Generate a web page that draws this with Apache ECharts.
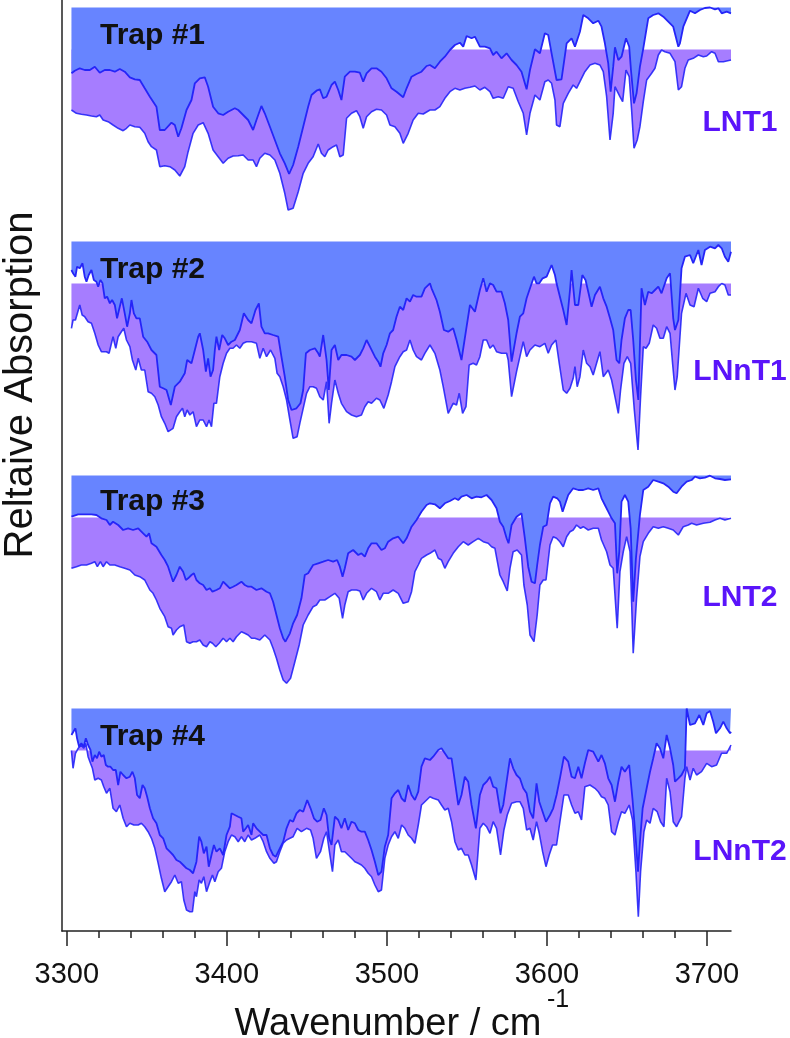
<!DOCTYPE html>
<html>
<head>
<meta charset="utf-8">
<script src="https://cdn.jsdelivr.net/npm/echarts@6/dist/echarts.min.js"></script>
<style>
html,body{margin:0;padding:0;background:#fff;}
#c{width:790px;height:1038px;}
</style>
</head>
<body>
<div id="c"></div>
<script>
// ---------------- DATA (wavenumber cm^-1, relative absorption depth below each trace's baseline, arb. units) ----------------
const trapLabels = ['Trap #1', 'Trap #2', 'Trap #3', 'Trap #4'];
const sampleLabels = ['LNT1', 'LNnT1', 'LNT2', 'LNnT2'];
const majorTicks = [3300, 3400, 3500, 3600, 3700];
const minorTicks = [3320,3340,3360,3380,3420,3440,3460,3480,3520,3540,3560,3580,3620,3640,3660,3680];
const xTitle = 'Wavenumber / cm';
const xTitleSup = '-1';
const yTitle = 'Reltaive Absorption';

// Trap #1 (blue, upper) and LNT1 (purple, lower)
const trap1Blue = [[3302.9,65.8],[3305.0,63.2],[3308.1,60.8],[3311.2,62.5],[3314.4,62.5],[3317.5,59.2],[3320.6,65.2],[3323.7,62.5],[3326.9,62.5],[3330.0,64.2],[3333.1,61.5],[3336.2,64.2],[3339.4,69.8],[3342.5,71.8],[3345.6,72.5],[3348.7,80.8],[3351.9,89.2],[3356.0,99.2],[3358.1,122.5],[3361.2,122.5],[3365.4,115.2],[3367.5,117.5],[3369.6,129.2],[3371.6,120.8],[3374.8,102.5],[3377.9,92.5],[3380.0,75.8],[3383.1,70.8],[3386.2,69.8],[3388.3,79.2],[3391.4,99.2],[3394.6,105.8],[3397.7,107.5],[3400.8,104.2],[3402.9,102.5],[3405.0,100.8],[3407.1,102.5],[3410.2,107.5],[3413.3,112.5],[3416.4,122.5],[3418.5,112.5],[3421.6,98.5],[3423.7,105.8],[3426.9,119.2],[3430.0,132.5],[3433.1,145.8],[3436.2,155.8],[3438.9,166.5],[3441.4,157.5],[3444.6,139.2],[3447.7,119.2],[3450.8,99.2],[3452.9,87.5],[3456.0,83.2],[3458.1,81.8],[3460.2,90.8],[3462.3,89.2],[3465.4,77.5],[3467.5,74.2],[3469.6,82.5],[3471.6,92.5],[3473.7,69.2],[3476.9,64.2],[3480.0,64.2],[3483.1,65.2],[3485.2,74.2],[3487.3,65.8],[3490.4,60.8],[3493.5,60.8],[3496.6,64.2],[3499.8,70.8],[3502.9,80.8],[3506.0,84.2],[3510.2,89.8],[3512.3,80.8],[3515.4,69.2],[3518.5,66.5],[3521.6,64.2],[3524.8,58.5],[3526.9,57.5],[3530.0,60.8],[3533.1,54.2],[3536.2,49.2],[3539.4,42.5],[3542.5,37.5],[3545.6,35.2],[3547.7,39.2],[3549.8,28.5],[3552.9,30.8],[3555.0,29.2],[3558.1,39.2],[3561.2,39.2],[3564.4,40.8],[3566.4,47.5],[3568.5,44.2],[3571.6,50.8],[3574.8,45.8],[3577.9,52.5],[3581.0,57.5],[3584.1,64.2],[3587.3,81.8],[3589.4,62.5],[3592.5,41.8],[3595.6,45.8],[3598.7,25.8],[3600.8,27.5],[3602.9,45.8],[3606.0,72.5],[3609.1,71.8],[3612.3,35.8],[3615.4,30.8],[3617.5,39.2],[3620.6,24.2],[3622.7,7.5],[3625.8,10.8],[3628.9,15.8],[3632.1,13.2],[3634.1,19.2],[3636.2,35.8],[3638.3,55.8],[3639.8,84.2],[3641.4,59.2],[3642.5,39.8],[3644.6,52.5],[3646.6,49.2],[3649.4,30.8],[3651.4,39.2],[3652.5,62.5],[3654.4,95.8],[3656.0,85.8],[3658.1,59.2],[3660.2,40.8],[3663.3,10.8],[3666.4,7.5],[3669.6,5.8],[3672.7,9.2],[3675.8,14.2],[3678.9,19.2],[3682.1,39.2],[3683.1,35.8],[3685.2,19.2],[3689.4,3.2],[3692.5,5.8],[3695.6,2.5],[3698.7,0.5],[3701.9,0],[3705.0,1.8],[3707.1,0.8],[3709.2,5.8],[3712.3,4.2],[3715.0,5.8]];
const lnt1Purple = [[3302.9,60.5],[3306.0,63.8],[3309.1,64.8],[3312.3,65.5],[3315.4,66.5],[3318.5,67.2],[3320.6,65.5],[3322.7,70.5],[3325.8,72.2],[3328.9,75.5],[3332.1,78.8],[3335.2,81.2],[3337.3,78.8],[3339.4,75.5],[3342.5,77.2],[3345.6,77.8],[3348.7,83.8],[3350.8,92.2],[3352.9,97.2],[3356.0,100.5],[3358.1,117.2],[3361.2,116.2],[3364.4,117.2],[3367.5,120.5],[3370.6,126.5],[3373.7,117.2],[3375.8,102.2],[3378.9,83.8],[3382.1,75.5],[3385.2,73.2],[3388.3,83.8],[3391.4,100.5],[3394.6,107.2],[3397.7,113.8],[3400.8,108.8],[3403.9,106.5],[3407.1,106.2],[3410.2,105.5],[3413.3,110.5],[3416.4,110.5],[3418.5,117.2],[3420.6,108.8],[3423.7,103.8],[3426.9,105.5],[3430.0,110.5],[3433.1,123.8],[3436.2,143.8],[3438.3,160.5],[3441.4,158.8],[3444.6,142.2],[3447.7,123.8],[3450.8,113.8],[3453.9,107.2],[3457.1,94.5],[3459.1,103.8],[3461.2,107.2],[3463.3,100.5],[3466.4,97.2],[3468.5,95.5],[3470.6,107.2],[3472.7,105.5],[3474.8,68.8],[3477.9,63.8],[3481.0,61.2],[3483.1,67.2],[3485.2,78.8],[3487.3,67.2],[3490.4,62.2],[3493.5,59.8],[3496.6,60.5],[3499.8,65.5],[3501.9,75.5],[3505.0,77.2],[3508.1,83.8],[3510.2,93.8],[3513.3,83.8],[3516.4,70.5],[3519.6,63.8],[3522.7,64.5],[3526.9,60.5],[3530.0,60.5],[3533.1,57.2],[3536.2,48.8],[3539.4,42.2],[3542.5,38.8],[3545.6,40.5],[3548.7,38.8],[3551.9,37.8],[3555.0,36.5],[3558.1,40.5],[3561.2,37.8],[3564.4,42.2],[3566.4,48.8],[3569.6,47.2],[3572.7,48.8],[3575.8,37.2],[3578.9,38.8],[3582.1,52.2],[3585.2,63.8],[3587.3,85.5],[3589.4,63.8],[3592.5,45.5],[3595.6,50.5],[3598.7,32.2],[3600.8,30.5],[3602.9,33.8],[3605.0,50.5],[3606.0,75.5],[3608.1,77.2],[3610.2,53.8],[3613.3,43.8],[3616.4,35.5],[3618.5,38.8],[3620.6,32.2],[3623.7,22.2],[3626.9,15.5],[3630.0,13.8],[3633.1,15.5],[3635.2,22.2],[3637.3,47.2],[3639.4,90.5],[3641.4,63.8],[3642.5,37.2],[3645.6,47.2],[3647.3,52.2],[3649.4,20.5],[3651.4,27.2],[3652.9,60.5],[3654.4,98.8],[3656.4,90.5],[3658.1,77.2],[3660.2,52.2],[3662.3,30.5],[3665.4,23.8],[3667.5,18.8],[3669.6,5.5],[3671.6,0.5],[3673.7,2.2],[3676.9,3.8],[3680.0,12.2],[3682.1,40.5],[3684.1,37.2],[3686.2,18.8],[3688.3,10.5],[3691.4,8.8],[3694.6,5.5],[3697.7,7.2],[3699.8,6.5],[3702.9,2.2],[3705.0,3.8],[3707.1,12.2],[3710.2,12.2],[3715.0,10.5]];

// Trap #2 (blue) and LNnT1 (purple)
const trap2Blue = [[3302.9,28.5],[3303.9,31.8],[3305.4,35.2],[3306.4,25.2],[3308.1,26.8],[3309.8,21.8],[3311.2,35.2],[3312.3,40.2],[3313.7,33.5],[3315.4,28.5],[3316.9,38.5],[3318.5,40.2],[3319.6,45.2],[3321.0,38.5],[3322.3,41.8],[3323.7,56.8],[3325.2,55.2],[3326.9,61.8],[3328.3,58.5],[3330.0,63.5],[3331.4,76.8],[3333.1,65.2],[3334.4,56.8],[3336.2,71.8],[3337.7,85.2],[3339.4,71.8],[3340.4,58.5],[3341.9,71.8],[3343.5,76.8],[3345.6,76.8],[3347.7,95.2],[3350.2,100.2],[3352.9,108.5],[3356.0,113.5],[3358.1,145.2],[3360.2,146.8],[3362.3,148.5],[3365.0,163.5],[3367.5,145.2],[3370.6,140.2],[3373.7,131.8],[3375.2,118.5],[3377.9,121.8],[3380.0,108.5],[3382.1,95.2],[3383.1,91.8],[3385.2,108.5],[3386.9,130.2],[3388.3,116.8],[3389.8,135.2],[3391.4,128.5],[3392.5,108.5],[3393.5,95.2],[3395.2,108.5],[3397.1,93.5],[3398.7,96.8],[3400.8,103.5],[3402.9,100.2],[3405.0,98.5],[3408.1,88.5],[3410.6,71.8],[3413.3,78.5],[3415.4,81.8],[3417.9,68.5],[3420.0,61.8],[3421.6,85.2],[3423.7,91.8],[3425.8,91.8],[3428.9,93.5],[3432.1,95.2],[3434.1,115.2],[3436.2,135.2],[3438.3,158.5],[3440.4,168.5],[3443.5,166.8],[3446.0,161.8],[3447.7,148.5],[3449.4,111.8],[3451.9,108.5],[3455.0,106.8],[3457.1,111.8],[3458.1,115.2],[3460.2,93.5],[3462.3,118.5],[3463.7,148.5],[3465.4,108.5],[3467.5,103.5],[3469.6,118.5],[3471.6,113.5],[3474.8,113.5],[3477.9,115.2],[3480.0,118.5],[3483.1,113.5],[3485.2,106.8],[3487.3,98.5],[3489.4,105.2],[3492.5,115.2],[3494.6,120.2],[3496.0,125.2],[3497.7,111.8],[3499.8,103.5],[3501.9,91.8],[3503.9,88.5],[3506.0,75.2],[3508.1,65.2],[3510.2,68.5],[3512.3,56.8],[3514.4,60.2],[3516.4,53.5],[3518.5,55.2],[3521.6,55.2],[3523.7,46.8],[3526.9,41.8],[3527.9,46.8],[3531.0,58.5],[3533.1,70.2],[3535.6,88.5],[3538.3,90.2],[3541.4,86.8],[3543.5,98.5],[3546.6,118.5],[3549.8,85.2],[3551.9,63.5],[3555.0,70.2],[3558.1,48.5],[3560.2,36.8],[3562.3,50.2],[3564.4,41.8],[3566.4,43.5],[3568.5,50.2],[3571.6,50.2],[3573.7,61.8],[3575.8,78.5],[3577.9,120.2],[3581.0,91.8],[3583.1,75.2],[3585.2,71.8],[3587.3,56.8],[3589.4,46.8],[3591.9,35.2],[3593.5,41.8],[3595.2,41.8],[3597.3,36.8],[3599.8,35.2],[3602.9,23.5],[3605.0,33.5],[3606.0,41.8],[3608.1,55.2],[3610.2,68.5],[3612.3,83.5],[3614.4,48.5],[3615.4,28.5],[3617.5,63.5],[3619.6,63.5],[3622.1,33.5],[3624.1,38.5],[3625.8,50.2],[3627.9,65.2],[3630.0,53.5],[3633.1,45.2],[3635.2,56.8],[3637.3,65.2],[3639.4,76.8],[3641.4,88.5],[3643.5,118.5],[3645.2,121.8],[3646.6,98.5],[3648.7,76.8],[3650.8,68.5],[3652.3,68.5],[3653.9,98.5],[3655.6,138.5],[3657.1,158.5],[3659.1,46.8],[3661.2,63.5],[3663.3,50.2],[3665.4,51.8],[3667.5,48.5],[3669.6,45.2],[3671.6,51.8],[3674.8,36.8],[3676.9,31.8],[3678.9,76.8],[3680.0,88.5],[3682.1,78.5],[3684.1,26.8],[3686.2,15.2],[3689.4,13.5],[3691.4,21.8],[3694.6,8.5],[3696.6,23.5],[3698.7,8.5],[3701.9,5.2],[3705.0,6.8],[3707.1,3.5],[3709.2,6.8],[3711.2,15.2],[3713.3,20.2],[3715.0,10.2]];
const lnnt1Purple = [[3302.9,44.8],[3303.9,36.5],[3305.4,36.5],[3306.4,34.8],[3308.1,21.5],[3309.6,31.5],[3311.2,33.2],[3313.3,38.2],[3315.4,39.8],[3317.5,49.8],[3319.6,61.5],[3321.6,68.2],[3324.8,68.2],[3326.4,69.8],[3327.9,59.8],[3328.9,53.2],[3330.6,64.8],[3332.1,53.2],[3334.1,48.2],[3335.6,44.8],[3337.3,56.5],[3339.4,63.2],[3341.0,76.5],[3343.1,86.5],[3344.6,74.8],[3346.6,86.5],[3348.7,86.5],[3350.8,108.2],[3352.9,109.8],[3355.0,113.2],[3357.1,121.5],[3359.1,133.2],[3361.2,139.8],[3363.3,148.2],[3366.4,144.8],[3368.5,133.2],[3370.6,128.2],[3372.3,124.8],[3373.7,133.2],[3375.2,126.5],[3376.9,131.5],[3378.9,128.2],[3381.0,143.2],[3383.1,136.5],[3385.2,136.5],[3387.3,143.2],[3388.9,136.5],[3390.4,143.2],[3391.9,119.8],[3393.5,119.8],[3395.6,93.2],[3397.7,79.8],[3399.8,69.8],[3401.9,64.8],[3403.9,64.8],[3406.0,61.5],[3408.1,64.8],[3410.2,59.8],[3412.3,58.2],[3415.4,58.2],[3418.5,59.8],[3420.6,74.8],[3422.7,64.8],[3424.8,73.2],[3427.3,66.5],[3430.0,74.8],[3431.4,89.8],[3433.1,93.2],[3435.2,103.2],[3437.3,116.5],[3439.4,136.5],[3441.4,154.8],[3443.9,153.2],[3445.6,139.8],[3447.7,124.8],[3449.8,109.8],[3451.9,103.2],[3453.9,103.2],[3456.0,104.8],[3458.1,113.2],[3460.2,116.5],[3462.3,98.2],[3463.9,139.8],[3465.4,119.8],[3467.5,96.5],[3469.6,109.8],[3471.6,119.8],[3474.8,128.2],[3477.9,131.5],[3481.0,133.2],[3484.1,131.5],[3486.2,123.2],[3488.3,118.2],[3490.4,119.8],[3493.5,114.8],[3495.6,116.5],[3498.1,124.8],[3500.8,111.5],[3502.9,98.2],[3505.0,83.2],[3508.1,73.2],[3510.2,68.2],[3512.3,66.5],[3514.4,56.5],[3516.4,66.5],[3518.5,73.2],[3521.6,76.5],[3523.7,69.8],[3526.9,61.5],[3530.0,69.8],[3533.1,86.5],[3535.2,103.2],[3538.3,129.8],[3541.4,119.8],[3543.5,121.5],[3545.2,109.8],[3547.3,129.8],[3549.4,123.2],[3551.4,81.5],[3553.9,79.8],[3556.0,81.5],[3558.1,73.2],[3560.2,56.5],[3562.3,56.5],[3564.4,64.8],[3566.4,61.5],[3568.5,68.2],[3571.6,69.8],[3574.8,69.8],[3575.8,76.5],[3577.9,113.2],[3581.0,88.2],[3583.1,73.2],[3585.2,58.2],[3587.3,73.2],[3589.4,66.5],[3592.5,61.5],[3595.6,63.2],[3598.7,59.8],[3600.8,69.8],[3602.9,61.5],[3605.6,56.5],[3607.7,79.8],[3610.2,106.5],[3612.3,109.8],[3614.4,104.8],[3616.4,94.8],[3617.5,83.2],[3618.9,103.2],[3620.6,93.2],[3622.7,66.5],[3624.8,79.8],[3626.9,83.2],[3628.9,91.5],[3631.0,79.8],[3633.1,68.2],[3635.2,93.2],[3638.3,86.5],[3640.4,96.5],[3642.5,113.2],[3644.6,129.8],[3646.0,106.5],[3648.1,79.8],[3650.2,73.2],[3652.3,79.8],[3654.6,126.5],[3656.9,166.5],[3658.5,113.2],[3660.2,63.2],[3661.9,64.8],[3663.9,59.8],[3666.4,41.5],[3668.5,44.8],[3670.6,54.8],[3672.7,54.8],[3674.8,43.2],[3676.9,49.8],[3678.5,79.8],[3680.0,106.5],[3681.4,93.2],[3684.1,29.8],[3686.9,9.8],[3689.4,21.5],[3691.9,23.2],[3694.6,4.8],[3697.3,14.8],[3699.8,18.2],[3701.9,9.8],[3705.0,8.2],[3707.1,3.2],[3709.2,0],[3711.2,1.5],[3713.3,11.5],[3715.0,11.5]];

// Trap #3 (blue) and LNT2 (purple)
const trap3Blue = [[3302.9,41.2],[3307.1,38.8],[3311.2,38.8],[3315.4,38.8],[3318.5,39.5],[3321.6,42.8],[3324.8,44.5],[3326.9,49.5],[3328.9,46.2],[3332.1,49.5],[3335.2,54.5],[3338.3,52.8],[3341.4,54.5],[3344.6,52.8],[3347.7,57.8],[3349.8,61.2],[3351.4,57.8],[3352.9,67.8],[3356.0,71.2],[3359.1,79.5],[3361.2,84.5],[3363.3,91.2],[3366.4,106.2],[3368.5,99.5],[3370.6,91.2],[3372.7,96.2],[3374.4,104.5],[3375.8,102.8],[3377.9,99.5],[3379.4,97.8],[3381.0,104.5],[3383.1,107.8],[3385.2,109.5],[3387.3,114.5],[3389.4,112.8],[3391.0,116.2],[3393.5,114.5],[3395.6,112.8],[3397.7,106.2],[3399.8,109.5],[3401.9,112.8],[3403.9,111.2],[3406.0,109.5],[3409.1,106.2],[3411.2,109.5],[3413.3,111.2],[3415.4,111.2],[3418.5,114.5],[3421.6,112.8],[3424.8,116.2],[3426.9,117.8],[3428.9,126.2],[3431.0,139.5],[3433.1,152.8],[3435.2,162.8],[3436.6,166.2],[3439.4,157.8],[3441.4,147.8],[3443.9,139.5],[3446.6,122.8],[3448.7,99.5],[3450.8,97.8],[3453.9,89.5],[3457.1,87.8],[3460.2,86.2],[3463.3,84.5],[3466.4,86.2],[3468.9,84.5],[3470.6,91.2],[3472.3,101.2],[3473.7,92.8],[3475.8,77.8],[3478.9,74.5],[3482.1,79.5],[3484.1,77.8],[3486.2,81.2],[3488.3,72.8],[3490.4,67.8],[3493.5,67.8],[3496.6,74.5],[3498.7,72.8],[3500.8,66.2],[3503.9,62.8],[3507.1,61.2],[3510.2,67.8],[3512.3,62.8],[3515.4,51.2],[3518.5,44.5],[3521.6,36.2],[3524.8,29.5],[3526.9,27.8],[3530.0,28.8],[3533.1,32.8],[3536.2,27.8],[3539.4,25.5],[3542.5,22.8],[3544.6,24.5],[3546.6,21.2],[3549.8,19.5],[3552.9,22.8],[3556.0,21.2],[3559.1,21.8],[3562.3,19.5],[3565.4,24.5],[3568.5,32.8],[3570.6,46.2],[3572.7,51.2],[3574.8,62.8],[3576.0,67.8],[3577.9,49.5],[3581.0,41.2],[3584.1,37.8],[3586.2,62.8],[3588.3,91.2],[3590.4,106.2],[3592.5,107.8],[3593.9,89.5],[3595.6,69.5],[3597.7,51.2],[3599.8,49.5],[3601.9,27.8],[3603.9,21.2],[3606.4,22.8],[3608.1,26.2],[3609.8,36.2],[3611.2,29.5],[3613.3,19.5],[3616.4,12.8],[3619.6,14.5],[3622.7,14.5],[3625.8,12.8],[3628.9,14.5],[3632.1,12.8],[3634.1,22.8],[3636.2,29.5],[3638.3,36.2],[3640.4,42.8],[3642.5,47.8],[3643.9,97.8],[3645.2,76.2],[3646.6,26.2],[3648.7,19.5],[3650.8,26.2],[3652.3,52.8],[3653.9,126.2],[3655.6,82.8],[3658.1,39.5],[3660.2,14.5],[3663.3,11.2],[3666.4,4.5],[3669.6,6.2],[3672.7,7.8],[3675.8,11.2],[3678.9,16.2],[3681.0,17.8],[3684.1,11.2],[3687.3,6.2],[3690.4,4.5],[3692.5,1.2],[3695.6,2.8],[3698.7,2.2],[3701.9,0.2],[3705.0,2.8],[3708.1,3.5],[3711.2,4.5],[3715.0,3.8]];
const lnt2Purple = [[3302.9,50.8],[3306.0,49.2],[3309.1,47.5],[3312.3,47.5],[3315.4,45.8],[3317.5,44.2],[3319.1,49.2],[3321.0,44.2],[3322.7,49.2],[3324.8,44.2],[3326.9,47.5],[3330.0,47.5],[3333.1,49.2],[3336.2,50.8],[3339.4,52.5],[3342.5,57.5],[3345.6,59.2],[3348.7,62.5],[3351.9,72.5],[3353.9,75.8],[3356.0,82.5],[3358.1,90.8],[3361.2,99.2],[3363.3,109.2],[3365.4,110.8],[3366.4,117.5],[3368.5,112.5],[3370.6,109.2],[3373.1,107.5],[3374.8,124.2],[3376.9,125.8],[3378.9,124.2],[3381.0,124.2],[3383.1,122.5],[3385.2,127.5],[3387.3,129.2],[3389.4,124.2],[3391.0,125.8],[3393.1,129.2],[3395.2,125.8],[3397.7,120.8],[3399.8,124.2],[3401.9,120.8],[3403.9,124.2],[3406.0,119.2],[3409.1,114.2],[3411.2,115.8],[3413.3,117.5],[3415.4,120.8],[3417.5,120.8],[3420.6,122.5],[3423.7,117.5],[3426.9,122.5],[3428.9,130.8],[3431.0,140.8],[3433.1,152.5],[3435.2,162.5],[3437.3,165.8],[3439.8,160.8],[3442.5,144.2],[3445.2,127.5],[3447.7,107.5],[3450.8,97.5],[3453.9,89.2],[3456.0,87.5],[3458.1,82.5],[3461.2,82.5],[3464.4,79.2],[3467.5,75.8],[3470.2,80.8],[3472.3,100.8],[3473.7,87.5],[3475.8,74.2],[3477.9,72.5],[3481.0,72.5],[3483.1,73.5],[3485.2,82.5],[3487.3,75.8],[3490.4,70.8],[3493.5,74.2],[3495.6,82.5],[3497.7,75.8],[3500.8,75.8],[3503.9,72.5],[3507.1,75.8],[3510.2,85.8],[3513.3,84.2],[3515.4,74.2],[3517.5,54.2],[3519.6,47.5],[3521.6,40.8],[3524.8,37.5],[3526.9,35.8],[3530.0,32.5],[3532.1,40.8],[3534.1,42.5],[3536.2,50.8],[3538.3,44.2],[3541.4,35.8],[3544.6,29.2],[3547.7,24.2],[3550.8,27.5],[3553.9,24.2],[3557.1,20.8],[3560.2,24.2],[3563.3,25.8],[3565.4,29.2],[3567.5,30.8],[3570.6,57.5],[3572.7,64.2],[3575.2,73.5],[3576.9,50.8],[3578.9,34.2],[3581.4,32.5],[3584.1,37.5],[3585.6,67.5],[3587.7,87.5],[3589.4,117.5],[3591.9,124.2],[3593.9,97.5],[3595.6,67.5],[3597.7,62.5],[3599.4,62.5],[3601.9,27.5],[3603.9,19.2],[3606.0,20.8],[3608.1,24.2],[3610.2,29.2],[3612.3,19.2],[3614.4,14.2],[3616.4,12.5],[3618.5,7.5],[3621.0,10.8],[3622.7,9.2],[3625.8,12.5],[3628.9,10.8],[3632.1,10.8],[3634.1,22.5],[3637.3,34.2],[3639.4,47.5],[3641.4,50.8],[3643.9,110.8],[3645.6,54.2],[3647.7,34.2],[3649.8,19.2],[3651.9,34.2],[3653.9,135.8],[3656.0,80.8],[3658.1,39.2],[3660.2,24.2],[3663.3,15.8],[3666.4,9.2],[3669.6,10.8],[3672.7,9.2],[3675.8,10.8],[3678.9,12.5],[3682.1,17.5],[3685.2,9.2],[3688.3,7.5],[3690.4,5.8],[3693.5,7.5],[3697.7,5.8],[3701.9,4.8],[3705.0,2.5],[3708.1,0.8],[3711.2,2.5],[3715.0,0.8]];

// Trap #4 (blue) and LNnT2 (purple)
const trap4Blue = [[3302.9,26.5],[3303.9,28.2],[3305.4,19.8],[3306.4,29.8],[3307.7,38.2],[3309.1,34.8],[3310.6,38.2],[3311.9,29.8],[3313.3,36.5],[3314.8,41.5],[3316.0,53.2],[3317.5,46.5],[3318.9,49.8],[3320.2,43.2],[3321.6,48.2],[3323.1,46.5],[3324.4,56.5],[3325.8,58.2],[3327.3,58.2],[3328.9,61.5],[3330.6,61.5],[3332.1,76.5],[3333.5,63.2],[3335.2,66.5],[3337.3,69.8],[3339.4,68.2],[3341.0,63.2],[3342.5,69.8],[3343.9,86.5],[3345.6,89.8],[3347.3,76.5],[3348.7,79.8],[3350.2,88.2],[3351.9,99.8],[3353.9,109.8],[3356.0,114.8],[3358.1,126.5],[3360.2,129.8],[3362.3,139.8],[3364.4,143.2],[3366.4,146.5],[3368.5,151.5],[3370.6,153.2],[3372.7,156.5],[3374.8,159.8],[3376.9,161.5],[3378.9,164.8],[3381.0,153.2],[3382.7,128.2],[3384.1,133.2],[3385.6,144.8],[3387.3,138.2],[3388.7,158.2],[3390.4,146.5],[3391.9,136.5],[3393.5,143.2],[3395.6,139.8],[3397.7,146.5],[3399.8,126.5],[3401.9,118.2],[3402.9,104.8],[3405.0,106.5],[3407.1,108.2],[3409.1,109.8],[3410.2,123.2],[3411.9,119.8],[3413.3,116.5],[3415.4,126.5],[3416.4,114.8],[3418.5,119.8],[3420.6,123.2],[3422.7,126.5],[3424.8,126.5],[3426.9,139.8],[3428.9,146.5],[3430.6,148.2],[3433.1,139.8],[3435.2,133.2],[3437.3,119.8],[3439.4,111.5],[3441.4,113.2],[3443.5,104.8],[3445.6,101.5],[3447.7,103.2],[3450.2,91.5],[3452.3,99.8],[3454.4,109.8],[3456.4,113.2],[3458.5,111.5],[3460.6,99.8],[3462.3,106.5],[3463.9,129.8],[3465.4,136.5],[3467.5,108.2],[3469.6,111.5],[3471.6,119.8],[3473.7,109.8],[3475.8,121.5],[3477.9,113.2],[3480.0,114.8],[3482.1,121.5],[3484.1,123.2],[3486.2,123.2],[3488.3,131.5],[3490.4,141.5],[3492.5,153.2],[3494.6,166.5],[3496.6,163.2],[3498.7,138.2],[3500.8,126.5],[3502.9,89.8],[3505.0,84.8],[3507.1,81.5],[3509.2,89.8],[3511.2,93.2],[3513.3,76.5],[3515.4,86.5],[3517.5,91.5],[3519.6,83.2],[3521.6,58.2],[3523.7,49.8],[3526.9,51.5],[3528.9,48.2],[3532.1,41.5],[3534.1,39.8],[3536.2,44.8],[3538.3,49.8],[3540.4,49.8],[3542.5,73.2],[3544.6,96.5],[3546.6,86.5],[3548.7,68.2],[3550.8,73.2],[3552.9,96.5],[3555.6,119.8],[3558.1,86.5],[3560.2,76.5],[3562.3,73.2],[3564.4,68.2],[3566.4,78.2],[3568.5,79.8],[3571.0,104.8],[3572.7,96.5],[3574.8,73.2],[3576.9,49.8],[3578.9,59.8],[3581.0,66.5],[3583.1,69.8],[3585.2,79.8],[3587.3,84.8],[3589.4,103.2],[3591.4,109.8],[3593.5,74.8],[3595.2,93.2],[3597.3,103.2],[3599.4,113.2],[3601.9,106.5],[3603.9,99.8],[3606.0,86.5],[3608.1,69.8],[3610.6,48.2],[3613.3,53.2],[3615.4,68.2],[3617.5,69.8],[3619.6,58.2],[3621.6,69.8],[3623.7,54.8],[3625.8,41.5],[3628.9,43.2],[3632.1,53.2],[3634.1,46.5],[3636.2,54.8],[3638.3,69.8],[3640.4,76.5],[3642.5,93.2],[3644.6,73.2],[3646.6,58.2],[3648.7,63.2],[3651.4,56.5],[3653.5,91.5],[3655.6,133.2],[3656.9,163.2],[3658.1,133.2],[3659.8,99.8],[3662.3,79.8],[3664.4,63.2],[3666.4,49.8],[3668.5,34.8],[3670.6,39.8],[3672.7,49.8],[3674.8,26.5],[3676.9,39.8],[3678.9,56.5],[3680.0,73.2],[3682.1,69.8],[3684.1,66.5],[3686.2,59.8],[3687.3,0],[3689.4,16.5],[3692.5,14.8],[3695.2,6.5],[3697.7,16.5],[3699.8,4.8],[3701.9,2.5],[3703.9,13.2],[3705.6,24.8],[3708.1,19.8],[3710.2,13.2],[3712.3,19.8],[3714.4,24.8],[3715.0,23.2]];
const lnnt2Purple = [[3302.9,0],[3303.9,17.8],[3305.4,2.8],[3307.1,-2.2],[3309.1,-5.5],[3310.6,-2.2],[3311.9,-7.2],[3313.3,6.2],[3314.8,12.8],[3316.0,17.8],[3317.5,29.5],[3319.6,27.8],[3321.6,29.5],[3323.1,36.2],[3324.8,42.8],[3326.9,37.8],[3328.9,57.8],[3331.0,61.2],[3333.1,54.5],[3335.2,67.8],[3337.3,76.2],[3339.4,72.8],[3341.9,74.5],[3344.6,74.5],[3346.6,72.8],[3348.7,76.2],[3350.8,81.2],[3352.9,87.8],[3355.0,97.8],[3357.1,112.8],[3359.1,127.8],[3361.2,141.2],[3363.3,136.2],[3365.4,131.2],[3367.5,124.5],[3369.6,132.8],[3371.6,131.2],[3373.1,149.5],[3374.8,159.5],[3376.9,161.2],[3378.5,161.2],[3380.0,141.2],[3381.0,146.2],[3382.7,129.5],[3384.1,132.8],[3385.6,126.2],[3387.3,141.2],[3389.4,131.2],[3391.0,124.5],[3392.5,131.2],[3394.6,121.2],[3396.6,117.8],[3398.7,101.2],[3400.8,91.2],[3402.9,84.5],[3405.0,86.2],[3407.1,91.2],[3409.1,86.2],[3411.2,91.2],[3413.3,84.5],[3415.4,89.5],[3417.5,87.8],[3420.6,84.5],[3422.7,91.2],[3424.8,101.2],[3426.9,107.8],[3429.4,112.8],[3431.0,111.2],[3433.1,101.2],[3435.2,92.8],[3437.3,89.5],[3439.4,87.8],[3441.4,86.2],[3443.9,77.8],[3446.6,81.2],[3449.8,77.8],[3452.3,79.5],[3453.9,87.8],[3456.0,107.8],[3458.5,101.2],[3460.6,87.8],[3462.3,81.2],[3464.4,104.5],[3466.0,121.2],[3467.5,94.5],[3469.6,89.5],[3471.6,101.2],[3473.7,101.2],[3475.8,104.5],[3477.9,107.8],[3480.0,111.2],[3482.1,112.8],[3484.1,114.5],[3486.2,117.8],[3488.3,122.8],[3490.4,126.2],[3492.5,134.5],[3494.6,141.2],[3496.6,139.5],[3498.7,107.8],[3500.8,94.5],[3502.9,86.2],[3505.0,81.2],[3507.1,87.8],[3509.2,74.5],[3511.2,77.8],[3513.3,84.5],[3515.4,87.8],[3517.5,92.8],[3519.6,74.5],[3521.6,54.5],[3523.7,51.2],[3526.9,46.2],[3528.9,47.8],[3532.1,49.5],[3534.1,54.5],[3536.2,59.5],[3538.3,57.8],[3540.4,71.2],[3542.5,91.2],[3544.6,99.5],[3546.6,97.8],[3548.7,104.5],[3550.8,104.5],[3552.9,114.5],[3555.6,129.5],[3558.1,77.8],[3560.2,72.8],[3562.3,76.2],[3564.4,82.8],[3566.4,71.2],[3568.5,77.8],[3571.0,104.5],[3573.1,79.5],[3575.2,64.5],[3577.9,52.8],[3581.0,51.2],[3583.1,51.2],[3585.2,57.8],[3587.3,79.5],[3589.4,77.8],[3591.4,89.5],[3593.5,71.2],[3595.2,82.8],[3597.3,101.2],[3599.4,116.2],[3601.4,104.5],[3603.5,94.5],[3606.0,94.5],[3608.1,71.2],[3610.6,44.5],[3613.3,44.5],[3615.4,54.5],[3617.5,62.8],[3619.6,61.2],[3621.6,69.5],[3623.7,36.2],[3626.9,34.5],[3630.0,37.8],[3632.1,41.2],[3634.1,46.2],[3636.2,47.8],[3638.3,54.5],[3640.4,81.2],[3642.5,84.5],[3644.6,71.2],[3646.6,61.2],[3648.7,62.8],[3651.4,54.5],[3653.5,69.5],[3655.6,121.2],[3657.1,166.2],[3658.5,121.2],[3660.6,81.2],[3662.3,69.5],[3664.4,72.8],[3666.4,57.8],[3668.9,61.2],[3671.0,71.2],[3673.1,76.2],[3674.8,27.8],[3676.9,41.2],[3678.9,71.2],[3681.0,76.2],[3684.1,66.2],[3686.2,27.8],[3687.3,16.2],[3689.4,29.5],[3691.4,17.8],[3693.5,24.5],[3696.6,21.2],[3699.8,12.8],[3702.9,16.2],[3706.0,14.5],[3709.1,2.8],[3712.3,2.8],[3715.0,-5.5]];

const upperTraces = [trap1Blue, trap2Blue, trap3Blue, trap4Blue];
const lowerTraces = [lnt1Purple, lnnt1Purple, lnt2Purple, lnnt2Purple];

// ---------------- LAYOUT / STYLE ----------------
const panelOffset = [7.5, 241.5, 475.5, 708.5];  // vertical offset of each stacked pair (plot units)
const lowerGap = 42;                              // offset of lower trace baseline from upper baseline
const blueFill = '#6784FF';
const purpleFill = '#A67DFF';
const lineColor = '#2525F8';
const labelPurple = '#5A14FA';
const FONT = '"Liberation Sans", Arial, Helvetica, sans-serif';

const chart = echarts.init(document.getElementById('c'), null, {renderer: 'canvas'});

const series = [];
for (let i = 0; i < 4; i++) {
  const bBase = panelOffset[i];
  const pBase = panelOffset[i] + lowerGap;
  series.push({
    type: 'line', name: sampleLabels[i],
    data: lowerTraces[i].map(p => [p[0], pBase + p[1]]),
    symbol: 'none', smooth: false, silent: true,
    lineStyle: {color: lineColor, width: 1.6, opacity: 0.9},
    areaStyle: {color: purpleFill, opacity: 1, origin: pBase},
    z: 2
  });
  series.push({
    type: 'line', name: trapLabels[i],
    data: upperTraces[i].map(p => [p[0], bBase + p[1]]),
    symbol: 'none', smooth: false, silent: true,
    lineStyle: {color: lineColor, width: 1.8},
    areaStyle: {color: blueFill, opacity: 1, origin: bBase},
    z: 3
  });
}

const graphics = [];
for (let i = 0; i < 4; i++) {
  graphics.push({
    type: 'text', x: 100, y: [35.6, 269.7, 501.4, 736.4][i], z: 100,
    style: {text: trapLabels[i], font: 'bold 30px ' + FONT, fill: '#111', align: 'left', verticalAlign: 'middle'}
  });
  graphics.push({
    type: 'text', x: 740, y: [123, 371.4, 598, 851.4][i], z: 100,
    style: {text: sampleLabels[i], font: 'bold 30px ' + FONT, fill: labelPurple, align: 'center', verticalAlign: 'middle'}
  });
}
graphics.push({
  type: 'text', x: 388, y: 1025, z: 100,
  style: {text: xTitle, font: '38px ' + FONT, fill: '#111', align: 'center', verticalAlign: 'middle'}
});
graphics.push({
  type: 'text', x: 547, y: 1000, z: 100,
  style: {text: xTitleSup, font: '25px ' + FONT, fill: '#111', align: 'left', verticalAlign: 'middle'}
});
graphics.push({
  type: 'text', x: 21, y: 385, rotation: Math.PI / 2, z: 100,
  style: {text: yTitle, font: '40px ' + FONT, fill: '#111', align: 'center', verticalAlign: 'middle'}
});

const option = {
  animation: false,
  backgroundColor: '#fff',
  grid: {left: 62, right: 59, top: 0, bottom: 107, containLabel: false},
  xAxis: [{
    type: 'value', min: 3297, max: 3715,
    axisLine: {show: true, onZero: false, lineStyle: {color: '#222', width: 1.5}},
    axisTick: {show: true, length: 15, customValues: majorTicks, lineStyle: {color: '#222', width: 1.5}},
    axisLabel: {show: true, customValues: majorTicks, formatter: v => String(v), margin: 29, fontSize: 29, lineHeight: 29, color: '#111', fontFamily: FONT},
    splitLine: {show: false}
  }, {
    type: 'value', min: 3297, max: 3715, position: 'bottom',
    axisLine: {show: false, onZero: false},
    axisTick: {show: true, length: 7, customValues: minorTicks, lineStyle: {color: '#222', width: 1.5}},
    axisLabel: {show: false},
    splitLine: {show: false}
  }],
  yAxis: {
    type: 'value', inverse: true, min: 0, max: 931,
    axisLine: {show: true, onZero: false, lineStyle: {color: '#222', width: 1.5}},
    axisTick: {show: false}, axisLabel: {show: false}, splitLine: {show: false}
  },
  series: series,
  graphic: graphics
};
chart.setOption(option);
</script>
</body>
</html>
